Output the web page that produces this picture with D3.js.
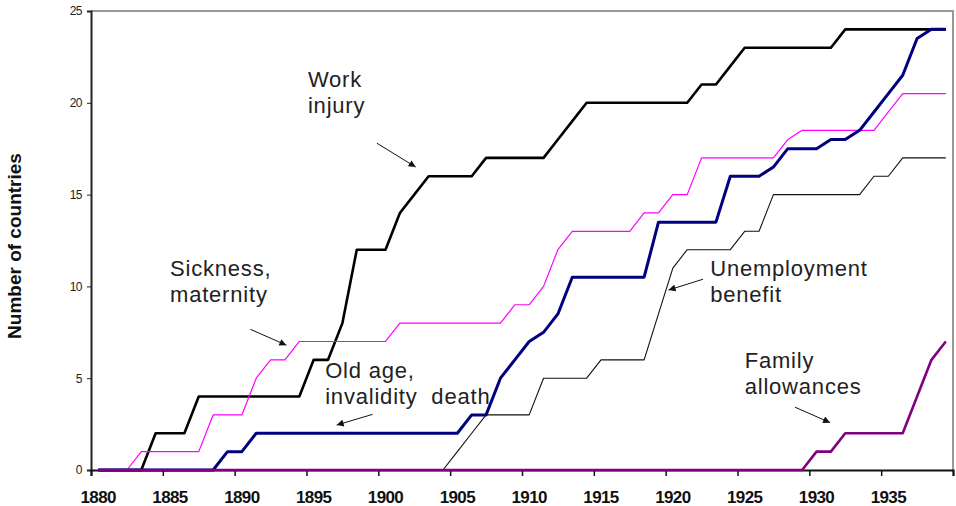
<!DOCTYPE html>
<html>
<head>
<meta charset="utf-8">
<script src="https://cdnjs.cloudflare.com/ajax/libs/d3/7.8.5/d3.min.js"></script>
<style>
  body { margin: 0; background: #fff; }
  svg { display: block; font-family: Arial, "Liberation Sans", sans-serif; }
</style>
</head>
<body>
<div id="graph"></div>
<script>
// one value per year, 1880 .. 1939
var years = d3.range(1880, 1940);
var xTickYears = [1880, 1885, 1890, 1895, 1900, 1905, 1910, 1915, 1920, 1925, 1930, 1935];
var yTicks = [0, 5, 10, 15, 20, 25];

var workInjury = [
  0, 0, 0, 0, 2, 2, 2, 4, 4, 4,
  4, 4, 4, 4, 4, 6, 6, 8, 12, 12,
  12, 14, 15, 16, 16, 16, 16, 17, 17, 17,
  17, 17, 18, 19, 20, 20, 20, 20, 20, 20,
  20, 20, 21, 21, 22, 23, 23, 23, 23, 23,
  23, 23, 24, 24, 24, 24, 24, 24, 24, 24
];
var sickness = [
  0, 0, 0, 1, 1, 1, 1, 1, 3, 3,
  3, 5, 6, 6, 7, 7, 7, 7, 7, 7,
  7, 8, 8, 8, 8, 8, 8, 8, 8, 9,
  9, 10, 12, 13, 13, 13, 13, 13, 14, 14,
  15, 15, 17, 17, 17, 17, 17, 17, 18, 18.5,
  18.5, 18.5, 18.5, 18.5, 18.5, 19.5, 20.5, 20.5, 20.5, 20.5
];
var oldAge = [
  0, 0, 0, 0, 0, 0, 0, 0, 0, 1,
  1, 2, 2, 2, 2, 2, 2, 2, 2, 2,
  2, 2, 2, 2, 2, 2, 3, 3, 5, 6,
  7, 7.5, 8.5, 10.5, 10.5, 10.5, 10.5, 10.5, 10.5, 13.5,
  13.5, 13.5, 13.5, 13.5, 16, 16, 16, 16.5, 17.5, 17.5,
  17.5, 18, 18, 18.5, 19.5, 20.5, 21.5, 23.5, 24, 24
];
var unemployment = [
  0, 0, 0, 0, 0, 0, 0, 0, 0, 0,
  0, 0, 0, 0, 0, 0, 0, 0, 0, 0,
  0, 0, 0, 0, 0, 1, 2, 3, 3, 3,
  3, 5, 5, 5, 5, 6, 6, 6, 6, 8.5,
  11, 12, 12, 12, 12, 13, 13, 15, 15, 15,
  15, 15, 15, 15, 16, 16, 17, 17, 17, 17
];
var family = [
  0, 0, 0, 0, 0, 0, 0, 0, 0, 0,
  0, 0, 0, 0, 0, 0, 0, 0, 0, 0,
  0, 0, 0, 0, 0, 0, 0, 0, 0, 0,
  0, 0, 0, 0, 0, 0, 0, 0, 0, 0,
  0, 0, 0, 0, 0, 0, 0, 0, 0, 0,
  1, 1, 2, 2, 2, 2, 2, 4, 6, 7
];

var series = [
  { values: workInjury, color: "#000000", width: 2.6 },
  { values: sickness, color: "#ff00ff", width: 1.2 },
  { values: oldAge, color: "#000080", width: 3 },
  { values: unemployment, color: "#111111", width: 1.1 },
  { values: family, color: "#800080", width: 2.6 }
];

// labels: text lines, anchor in data units, arrow from/to in data units
var notes = [
  { lines: ["Work", "injury"], at: [1895.1, 20.84], from: [1899.9, 17.8], to: [1902.6, 16.5] },
  { lines: ["Sickness,", "maternity"], at: [1885.5, 10.57], from: [1891.1, 7.66], to: [1893.6, 6.8] },
  { lines: ["Old age,", "invalidity  death"], at: [1896.3, 4.99], from: [1899.6, 3.03], to: [1897.1, 2.45] },
  { lines: ["Unemployment", "benefit"], at: [1923.1, 10.57], from: [1922.6, 10.39], to: [1920.2, 9.8] },
  { lines: ["Family", "allowances"], at: [1925.5, 5.54], from: [1929.0, 3.42], to: [1931.45, 2.58] }
];

var width = 956, height = 506;
var plotLeft = 91, plotRight = 953, plotTop = 11, plotBottom = 470;

var svg = d3.select("#graph")
  .append("svg")
  .attr("width", width)
  .attr("height", height);

var x = d3.scaleLinear().domain([1880, 1940]).range([plotLeft, plotRight]);
var y = d3.scaleLinear().domain([0, 25]).range([plotBottom, plotTop]);

svg.append("defs").append("marker")
  .attr("id", "arrow")
  .attr("viewBox", "0 0 10 10")
  .attr("refX", 10)
  .attr("refY", 5)
  .attr("markerWidth", 9)
  .attr("markerHeight", 7)
  .attr("markerUnits", "userSpaceOnUse")
  .attr("orient", "auto")
  .append("path")
  .attr("d", "M0,0L10,5L0,10z")
  .attr("fill", "#111");

// frame top / right
svg.append("path")
  .attr("d", "M" + plotLeft + "," + plotTop + "H" + plotRight + "V" + plotBottom)
  .attr("fill", "none")
  .attr("stroke", "#999")
  .attr("stroke-width", 2);

// y axis
var yAxis = svg.append("g")
  .attr("transform", "translate(" + plotLeft + ",0)")
  .call(d3.axisLeft(y).tickValues(yTicks).tickSize(4).tickPadding(5));
yAxis.select(".domain").attr("stroke", "#222").attr("stroke-width", 2);
yAxis.selectAll(".tick line").attr("stroke", "#222");
yAxis.selectAll("text").attr("font-size", 12).attr("fill", "#222")
  .attr("font-family", "Arial, 'Liberation Sans', sans-serif")
  .attr("letter-spacing", -0.5);

// x axis: ticks at category edges, labels centred on the category
var xAxis = svg.append("g")
  .attr("transform", "translate(0," + plotBottom + ")")
  .call(d3.axisBottom(x).tickValues(xTickYears.concat([1940])).tickSize(6).tickFormat(""));
xAxis.select(".domain").attr("stroke", "#111").attr("stroke-width", 2);
xAxis.selectAll(".tick line").attr("stroke", "#111").attr("stroke-width", 1.5);

svg.append("g").selectAll("text")
  .data(xTickYears)
  .enter().append("text")
  .attr("x", function(d){ return x(d + 0.5); })
  .attr("y", 503)
  .attr("text-anchor", "middle")
  .attr("font-size", 17)
  .attr("font-weight", "bold")
  .attr("letter-spacing", -0.6)
  .attr("fill", "#111")
  .text(function(d){ return d; });

svg.append("text")
  .attr("transform", "translate(21,246) rotate(-90)")
  .attr("text-anchor", "middle")
  .attr("font-size", 19)
  .attr("font-weight", "bold")
  .attr("fill", "#111")
  .text("Number of countries");

var line = d3.line()
  .x(function(d, i){ return x(years[i] + 0.5); })
  .y(function(d){ return y(d); });

svg.append("g").selectAll("path")
  .data(series)
  .enter().append("path")
  .attr("d", function(s){ return line(s.values); })
  .attr("fill", "none")
  .attr("stroke", function(s){ return s.color; })
  .attr("stroke-width", function(s){ return s.width; })
  .attr("stroke-linejoin", "round");

// annotations
var note = svg.append("g").selectAll("g")
  .data(notes)
  .enter().append("g");

note.append("line")
  .attr("x1", function(d){ return x(d.from[0]); })
  .attr("y1", function(d){ return y(d.from[1]); })
  .attr("x2", function(d){ return x(d.to[0]); })
  .attr("y2", function(d){ return y(d.to[1]); })
  .attr("stroke", "#111")
  .attr("stroke-width", 1)
  .attr("marker-end", "url(#arrow)");

note.append("text")
  .attr("x", function(d){ return x(d.at[0]); })
  .attr("y", function(d){ return y(d.at[1]); })
  .attr("font-size", 22)
  .attr("letter-spacing", 0.8)
  .attr("fill", "#222")
  .style("white-space", "pre")
  .each(function(d){
    var t = d3.select(this);
    d.lines.forEach(function(l, i){
      t.append("tspan")
        .attr("x", x(d.at[0]))
        .attr("dy", i == 0 ? 0 : 26)
        .text(l);
    });
  });
</script>
</body>
</html>
